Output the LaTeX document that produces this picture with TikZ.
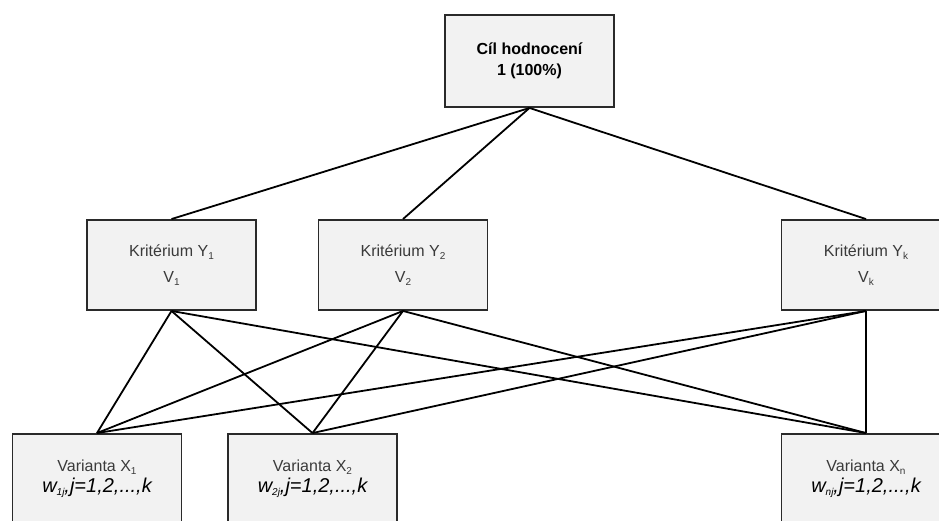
\documentclass[tikz,border=0pt]{standalone}
\usepackage{fontspec}
\setmainfont{Liberation Sans}
\definecolor{boxfill}{HTML}{F2F2F2}
\definecolor{boxline}{HTML}{2A2A2A}
\definecolor{labeltext}{HTML}{3A3A3A}
\newcommand{\lowsub}[1]{\raisebox{-0.15em}{\fontsize{10}{10}\selectfont #1}}
\begin{document}
\begin{tikzpicture}[x=1pt,y=-1pt,
  hbox/.style={draw=boxline,fill=boxfill,line width=1.9pt,rectangle,inner sep=0pt,
    minimum width=169pt,minimum height=90pt,align=center},
  crit/.style={hbox,text=labeltext,font=\fontsize{16}{19}\selectfont},
  alt/.style={hbox,font=\fontsize{16}{19}\selectfont},
  link/.style={line width=1.8pt,black}]
\useasboundingbox (0,0) rectangle (939,520);
\clip (0,0) rectangle (939,520);

% goal of the evaluation
\node[hbox,minimum height=92pt,font=\fontsize{16}{19}\selectfont\bfseries] (goal) at (529.5,61)
  {Cíl hodnocení\\[2pt]1 (100\%)};

% criteria level
\node[crit] (y1) at (171.5,265) {Kritérium Y\lowsub{1}\\[7pt]V\lowsub{1}};
\node[crit] (y2) at (403,265) {Kritérium Y\lowsub{2}\\[7pt]V\lowsub{2}};
\node[crit] (yk) at (866,265) {Kritérium Y\lowsub{k}\\[7pt]V\lowsub{k}};

% alternatives level
\node[alt] (x1) at (97,479)
  {\color{labeltext}Varianta X\lowsub{1}\\[2pt]
   \fontsize{20}{22}\selectfont\itshape w\lowsub{1j},j=1,2,...,k};
\node[alt] (x2) at (312.5,479)
  {\color{labeltext}Varianta X\lowsub{2}\\[2pt]
   \fontsize{20}{22}\selectfont\itshape w\lowsub{2j},j=1,2,...,k};
\node[alt] (xn) at (866,479)
  {\color{labeltext}Varianta X\lowsub{n}\\[2pt]
   \fontsize{20}{22}\selectfont\itshape w\lowsub{nj},j=1,2,...,k};

% goal to criteria
\foreach \c in {y1,y2,yk}
  \draw[link] (goal.south) -- (\c.north);

% every criterion to every alternative
\foreach \c in {y1,y2,yk}
  \foreach \v in {x1,x2,xn}
    \draw[link] (\c.south) -- (\v.north);
\end{tikzpicture}
\end{document}
